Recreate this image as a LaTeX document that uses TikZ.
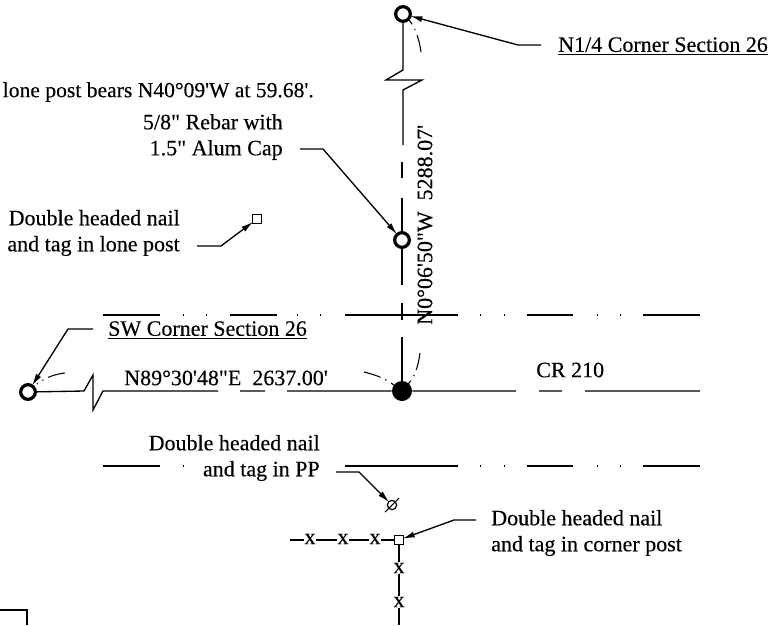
\documentclass[tikz,border=0pt]{standalone}
\usepackage{fontspec}
\setmainfont{Liberation Serif}[Ligatures=TeXOff,FakeBold=0.25]
\usetikzlibrary{arrows.meta}
\tikzset{
    lbl/.style={inner sep=0pt, font=\fontsize{16.5}{19.5}\selectfont, align=#1},
    lbl/.default=left,
    line/.style={line width=1pt},
    leader/.style={line width=1pt, -{Latex[length=9pt,width=4.5pt]}, shorten >=-1pt},
    arc/.style={line width=0.8pt, dash pattern=on 13pt off 4pt on 1pt off 4pt},
    monument/.style={circle, draw, line width=2.4pt, minimum size=11pt, inner sep=0pt},
    nailbox/.style={rectangle, draw, line width=0.9pt, minimum size=6.5pt, inner sep=0pt, fill=white},
    fencex/.style={inner sep=0.5pt, fill=white, font=\fontsize{17}{17}\selectfont}
}
\begin{document}
\begin{tikzpicture}[x=0.75pt,y=-0.75pt]
    \useasboundingbox (0,0) rectangle (777,625);

    % Section line, north end
    \node[monument] (NQ) at (403,14) {};
    \node[monument] (RB) at (402,240) {};
    \node[circle, fill=black, minimum size=15pt, inner sep=0pt] (SC) at (402,391) {};
    \draw[line] (NQ) -- (403,70) -- (386,80) -- (422,80) -- (403,90) -- (403,145);
    \draw[line] (402,162) -- (402,178) (402,198) -- (RB) -- (402,285) (402,303) -- (402,320) (402,337) -- (SC);

    % Road
    \draw[line] (103,315) -- (160,315) (183,315) -- (184,315) (206,315) -- (207,315) (230,315) -- (277,315)
        (297,315) -- (298,315) (320,315) -- (321,315) (345,315) -- (458,315) (480,315) -- (481,315)
        (504,315) -- (505,315) (527,315) -- (573,315) (597,315) -- (598,315) (620,315) -- (621,315) (643,315) -- (700,315);
    \draw[line] (103,466) -- (160,466) (183,466) -- (184,466) (345,466) -- (458,466) (480,466) -- (481,466)
        (504,466) -- (505,466) (527,466) -- (573,466) (597,466) -- (598,466) (620,466) -- (621,466) (643,466) -- (700,466);

    % Quarter line with break
    \node[monument] (SW) at (28,392) {};
    \draw[line] (SW) -- (84,391) -- (93,375) -- (93,410) -- (103,391) -- (218,391) (240,391) -- (265,391) (287,391) -- (SC) -- (516,391)
        (539,391) -- (562,391) (585,391) -- (700,391);

    % Corner ties
    \draw[arc] (421,52) .. controls (419,38) and (415,27) .. (409,20);
    \draw[arc] (420,353) .. controls (418,368) and (414,378) .. (408,384);
    \draw[arc] (364,372) .. controls (376,375) and (387,379) .. (395,386);
    \draw[arc] (65,373) .. controls (56,374) and (46,377) .. (37,384);

    % Labels
    \node[lbl, anchor=east, font=\fontsize{16.2}{19.5}\selectfont] (BR) at (314,92) {lone post bears N40°09'W at 59.68'.};
    \node[lbl=right, anchor=east] (RL) at (283,137) {5/8" Rebar with\\1.5" Alum Cap};
    \node[lbl=right, anchor=east] (LP) at (180,233) {Double headed nail\\and tag in lone post};
    \node[lbl, anchor=west] (NL) at (558,46) {\underline{N1/4 Corner Section 26}};
    \node[lbl, anchor=west] (SL) at (108,330) {\underline{SW Corner Section 26}};
    \node[lbl, anchor=west] (EW) at (124,378) {N89°30'48"E\ \ 2637.00'};
    \node[lbl, anchor=west] (CR) at (536,370) {CR 210};
    \node[lbl=right, anchor=east] (PL) at (320,458) {Double headed nail\\and tag in PP};
    \node[lbl, anchor=west] (CL) at (491,533) {Double headed nail\\and tag in corner post};
    \node[lbl, rotate=90, anchor=west] (NS) at (425,325) {N0°06'50"W\ \ 5288.07'};

    % Nails
    \node[nailbox] (LN) at (257,219) {};
    \node[circle, draw, line width=0.9pt, minimum size=7pt, inner sep=0pt] (PP) at (392,505) {};
    \draw[line width=0.8pt] (385,512) -- (399,498);
    \node[nailbox] (CP) at (399,540) {};

    % Leaders
    \coordinate (NT) at (541,45);
    \coordinate (NB) at (518,45);
    \draw[leader] (NT) -- (NB) -- (NQ);
    \coordinate (RT) at (300,149);
    \coordinate (RK) at (323,149);
    \draw[leader] (RT) -- (RK) -- (RB);
    \coordinate (LT) at (197,246);
    \coordinate (LB) at (221,246);
    \draw[leader] (LT) -- (LB) -- (LN);
    \coordinate (ST) at (93,329);
    \coordinate (SB) at (68,329);
    \draw[leader] (ST) -- (SB) -- (SW);
    \coordinate (PT) at (336,472);
    \coordinate (PB) at (359,472);
    \draw[leader] (PT) -- (PB) -- (PP);
    \coordinate (CT) at (476,520);
    \coordinate (CB) at (454,520);
    \draw[leader] (CT) -- (CB) -- (CP);

    % Fence
    \coordinate (FW) at (290,540);
    \coordinate (FS) at (399,625);
    \draw[line] (FW) -- (CP) -- (FS);
    \node[fencex] (X1) at (310,539) {x};
    \node[fencex] (X2) at (343,539) {x};
    \node[fencex] (X3) at (375,539) {x};
    \node[fencex] (X4) at (399,568) {x};
    \node[fencex] (X5) at (399,602) {x};

    % Sheet frame corner
    \draw[line width=1.2pt] (0,610) -- (27,610) -- (27,625);
\end{tikzpicture}
\end{document}
